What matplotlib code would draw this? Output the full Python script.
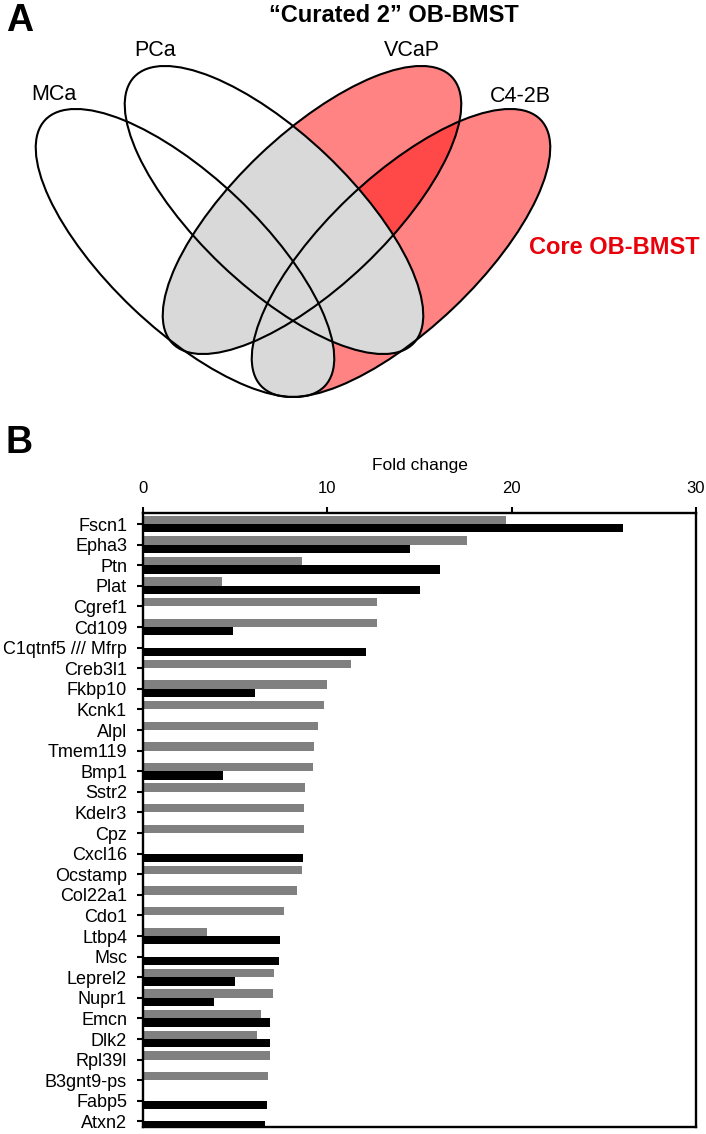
import numpy as np
import matplotlib
matplotlib.use("Agg")
import matplotlib.pyplot as plt
from matplotlib.patches import Ellipse

plt.rcParams["font.family"] = ["Liberation Sans", "DejaVu Sans"]

# --- data (fold change) ---
genes = ["Fscn1", "Epha3", "Ptn", "Plat", "Cgref1", "Cd109", "C1qtnf5 /// Mfrp",
         "Creb3l1", "Fkbp10", "Kcnk1", "Alpl", "Tmem119", "Bmp1", "Sstr2", "Kdelr3",
         "Cpz", "Cxcl16", "Ocstamp", "Col22a1", "Cdo1", "Ltbp4", "Msc", "Leprel2",
         "Nupr1", "Emcn", "Dlk2", "Rpl39l", "B3gnt9-ps", "Fabp5", "Atxn2"]
gray_vals = [19.7, 17.6, 8.6, 4.3, 12.7, 12.7, 0, 11.3, 10.0, 9.8, 9.5, 9.25, 9.2,
             8.8, 8.75, 8.75, 0, 8.65, 8.35, 7.65, 3.45, 0, 7.1, 7.05, 6.4, 6.2,
             6.9, 6.8, 0, 0]
black_vals = [26.05, 14.5, 16.1, 15.0, 0, 4.9, 12.1, 0, 6.1, 0, 0, 0, 4.35, 0, 0,
              0, 8.7, 0, 0, 0, 7.45, 7.4, 5.0, 3.85, 6.9, 6.9, 0, 0, 6.7, 6.6]
x_ticks = [0, 10, 20, 30]

venn_sets = ["MCa", "PCa", "VCaP", "C4-2B"]

LIGHT_RED = "#ff8383"
DARK_RED = "#ff4848"
GRAY_FILL = "#d9d9d9"

W, H = 706, 1134
fig = plt.figure(figsize=(W / 100, H / 100), dpi=100)

# ---------------- panel A: Venn (pixel coordinates) ----------------
av = fig.add_axes([0, 0, 1, 1])
av.set_xlim(0, W)
av.set_ylim(H, 0)
av.axis("off")

a_ax, b_ax, ang = 193, 76, 43.6
centers = {"MCa": (185, 253, ang), "PCa": (274, 210, ang),
           "VCaP": (312, 210, -ang), "C4-2B": (401, 253, -ang)}


def ell(name, **kw):
    cx, cy, an = centers[name]
    return Ellipse((cx, cy), 2 * a_ax, 2 * b_ax, angle=an, transform=av.transData, **kw)


for nm in ["VCaP", "C4-2B"]:
    av.add_patch(ell(nm, facecolor=LIGHT_RED, edgecolor="none"))

p = ell("C4-2B", facecolor=DARK_RED, edgecolor="none")
av.add_patch(p)
p.set_clip_path(ell("VCaP"))

for left in ["MCa", "PCa"]:
    for right in ["VCaP", "C4-2B"]:
        p = ell(left, facecolor=GRAY_FILL, edgecolor="none")
        av.add_patch(p)
        p.set_clip_path(ell(right))

for nm in venn_sets:
    av.add_patch(ell(nm, fill=False, edgecolor="black", linewidth=1.5))

label_pos = {"MCa": (54, 95), "PCa": (155, 51), "VCaP": (412, 51), "C4-2B": (520, 97)}
for nm in venn_sets:
    av.text(*label_pos[nm], nm, fontsize=15.5, ha="center", va="center")

av.text(394, 15, "\u201cCurated 2\u201d OB-BMST", fontsize=17, fontweight="bold",
        ha="center", va="center")
av.text(529, 247, "Core OB-BMST", fontsize=17, fontweight="bold", color="#e8000b",
        ha="left", va="center")
av.text(6, 21, "A", fontsize=27, fontweight="bold", ha="left", va="center")
av.text(5, 443, "B", fontsize=27, fontweight="bold", ha="left", va="center")

# ---------------- panel B: bar chart ----------------
left, right, top, bottom = 143, 696, 513, 1127
ax = fig.add_axes([left / W, 1 - bottom / H, (right - left) / W, (bottom - top) / H])

y = np.arange(len(genes))
bh = 0.41
ax.barh(y - bh / 2, gray_vals, height=bh, color="#808080", linewidth=0)
ax.barh(y + bh / 2, black_vals, height=bh, color="black", linewidth=0)

ax.set_xlim(0, 30)
ax.set_ylim(29.27, -0.534)
ax.set_yticks(y)
ax.set_yticklabels(genes, fontsize=13)
ax.set_xticks(x_ticks)
ax.set_xticklabels([str(t) for t in x_ticks], fontsize=12)
ax.xaxis.tick_top()
ax.xaxis.set_label_position("top")
ax.set_xlabel("Fold change", fontsize=12.5, labelpad=8)
ax.tick_params(axis="x", direction="out", length=4.5, width=1.5, pad=8)
ax.tick_params(axis="y", direction="out", length=4.5, width=1.5, pad=7)
for s in ax.spines.values():
    s.set_linewidth(1.7)

fig.savefig("out.png", dpi=100)
